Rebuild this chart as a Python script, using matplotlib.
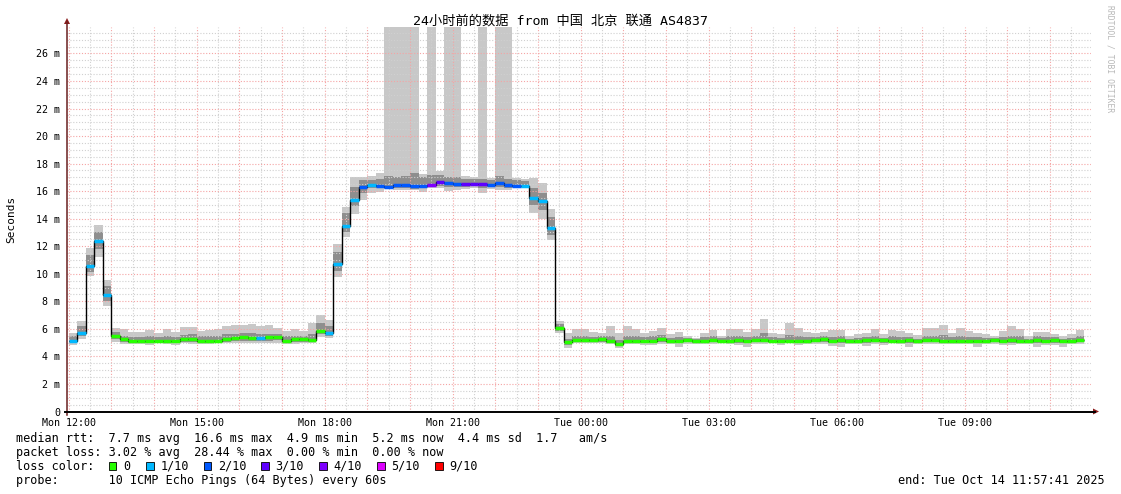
import numpy as np
import matplotlib
matplotlib.use("Agg")
import matplotlib.pyplot as plt
from matplotlib.lines import Line2D
from matplotlib.patches import Rectangle, Polygon

# 12-minute bins starting Mon 12:00 (hours from Mon 12:00)
BIN_HOURS = 0.2

# median rtt per bin, ms
med = [
    5.15, 5.73, 10.57, 12.41, 8.44, 5.50, 5.24, 5.15, 5.15, 5.12,
    5.15, 5.15, 5.12, 5.24, 5.24, 5.15, 5.15, 5.15, 5.29, 5.31,
    5.39, 5.31, 5.31, 5.43, 5.43, 5.15, 5.24, 5.24, 5.19, 5.87,
    5.73, 10.69, 13.45, 15.36, 16.28, 16.43, 16.40, 16.33, 16.48, 16.48,
    16.40, 16.40, 16.45, 16.65, 16.62, 16.53, 16.53, 16.53, 16.53, 16.48,
    16.62, 16.48, 16.40, 16.40, 15.50, 15.29, 13.30, 6.09, 5.02, 5.19,
    5.19, 5.19, 5.24, 5.15, 4.90, 5.15, 5.15, 5.15, 5.15, 5.24,
    5.15, 5.15, 5.19, 5.15, 5.15, 5.19, 5.15, 5.15, 5.19, 5.15,
    5.19, 5.19, 5.15, 5.15, 5.15, 5.15, 5.15, 5.19, 5.24, 5.12,
    5.19, 5.12, 5.12, 5.19, 5.19, 5.19, 5.15, 5.15, 5.19, 5.12,
    5.19, 5.19, 5.15, 5.15, 5.15, 5.15, 5.15, 5.15, 5.19, 5.15,
    5.19, 5.15, 5.15, 5.19, 5.15, 5.19, 5.15, 5.15, 5.19,
]

# slowest ping per bin (30 = off the top of the chart)
hi = [
    5.68, 6.57, 11.90, 13.55, 9.55, 6.09, 5.97, 5.80, 5.80, 5.92,
    5.68, 5.97, 5.80, 6.10, 6.16, 5.85, 5.92, 5.97, 6.21, 6.28,
    6.28, 6.33, 6.21, 6.28, 6.04, 5.85, 5.97, 5.85, 6.45, 7.00,
    6.65, 12.17, 14.88, 17.00, 17.06, 17.10, 17.30, 30.0, 30.0, 30.0,
    30.0, 17.25, 30.0, 17.47, 30.0, 30.0, 17.10, 17.06, 30.0, 16.94,
    30.0, 30.0, 16.94, 16.90, 16.94, 16.57, 14.69, 6.57, 5.73, 5.97,
    5.97, 5.77, 5.68, 6.21, 5.68, 6.21, 5.97, 5.73, 5.85, 6.04,
    5.60, 5.77, 5.49, 5.36, 5.73, 5.92, 5.49, 6.02, 6.02, 5.80,
    6.00, 6.74, 5.68, 5.64, 6.45, 6.09, 5.80, 5.68, 5.75, 5.92,
    5.92, 5.49, 5.64, 5.73, 5.97, 5.64, 5.92, 5.85, 5.73, 5.54,
    6.09, 6.09, 6.31, 5.73, 6.07, 5.87, 5.73, 5.66, 5.49, 5.87,
    6.21, 6.02, 5.49, 5.80, 5.75, 5.64, 5.49, 5.64, 5.92,
]

# fastest ping per bin
lo = [
    4.85, 5.24, 9.85, 11.20, 7.66, 5.07, 4.88, 4.88, 4.88, 4.83,
    4.95, 4.88, 4.83, 4.95, 4.90, 4.88, 4.88, 4.95, 4.95, 5.00,
    5.00, 5.00, 5.00, 4.95, 5.00, 4.88, 4.88, 4.95, 4.95, 5.44,
    5.31, 9.75, 12.65, 14.35, 15.36, 15.90, 15.97, 16.14, 16.10, 16.10,
    16.05, 15.97, 16.20, 16.20, 16.00, 16.05, 16.14, 16.20, 15.90, 16.14,
    16.05, 16.05, 16.20, 16.20, 14.44, 13.97, 12.46, 5.68, 4.59, 4.95,
    4.95, 4.95, 4.95, 4.90, 4.59, 4.90, 4.90, 4.83, 4.83, 4.90,
    4.90, 4.71, 4.90, 4.90, 4.90, 4.88, 4.95, 4.90, 4.83, 4.71,
    4.90, 4.90, 4.95, 4.83, 4.95, 4.83, 4.88, 4.88, 4.90, 4.76,
    4.71, 4.90, 4.90, 4.76, 4.90, 4.81, 4.95, 4.88, 4.71, 4.90,
    4.90, 4.90, 4.90, 4.90, 4.88, 4.90, 4.71, 4.88, 4.90, 4.83,
    4.83, 4.90, 4.90, 4.71, 4.83, 4.83, 4.71, 4.88, 4.90,
]

# inner (darker) smoke band
mhi = [
    5.45, 6.20, 11.40, 13.00, 9.10, 5.80, 5.50, 5.40, 5.40, 5.45,
    5.40, 5.50, 5.40, 5.55, 5.60, 5.45, 5.45, 5.50, 5.60, 5.65,
    5.70, 5.70, 5.60, 5.65, 5.65, 5.45, 5.50, 5.45, 5.60, 6.40,
    6.20, 11.60, 14.40, 16.30, 16.80, 16.80, 16.90, 17.10, 17.00, 17.10,
    17.30, 17.00, 17.20, 17.20, 17.00, 17.00, 16.90, 16.85, 16.90, 16.80,
    17.10, 16.90, 16.80, 16.75, 16.20, 15.90, 14.10, 6.35, 5.30, 5.45,
    5.45, 5.40, 5.45, 5.50, 5.20, 5.50, 5.45, 5.40, 5.45, 5.55,
    5.35, 5.40, 5.35, 5.30, 5.40, 5.45, 5.35, 5.50, 5.50, 5.40,
    5.50, 5.70, 5.40, 5.35, 5.55, 5.45, 5.40, 5.40, 5.45, 5.40,
    5.45, 5.30, 5.35, 5.40, 5.45, 5.35, 5.45, 5.40, 5.40, 5.30,
    5.50, 5.50, 5.55, 5.40, 5.45, 5.40, 5.40, 5.35, 5.35, 5.40,
    5.50, 5.45, 5.30, 5.45, 5.40, 5.40, 5.30, 5.35, 5.45,
]
mlo = [
    5.00, 5.50, 10.10, 11.80, 8.00, 5.30, 5.05, 5.00, 5.00, 4.98,
    5.02, 5.00, 4.98, 5.08, 5.05, 5.00, 5.00, 5.02, 5.08, 5.12,
    5.15, 5.12, 5.10, 5.15, 5.18, 5.00, 5.02, 5.05, 5.02, 5.60,
    5.50, 10.20, 13.00, 14.90, 15.90, 16.20, 16.20, 16.20, 16.25, 16.20,
    16.15, 16.20, 16.30, 16.40, 16.30, 16.30, 16.30, 16.35, 16.25, 16.30,
    16.30, 16.25, 16.30, 16.30, 15.00, 14.60, 12.80, 5.85, 4.80, 5.02,
    5.02, 5.02, 5.05, 5.00, 4.75, 5.00, 5.00, 4.98, 4.98, 5.05,
    5.00, 4.95, 5.02, 5.00, 5.00, 5.02, 5.02, 5.00, 5.00, 4.95,
    5.02, 5.02, 5.02, 4.98, 5.02, 4.98, 5.00, 5.02, 5.05, 4.95,
    4.98, 5.00, 5.00, 4.98, 5.02, 4.98, 5.02, 5.00, 4.95, 5.00,
    5.02, 5.02, 5.00, 5.00, 5.00, 5.00, 4.95, 5.00, 5.02, 4.98,
    5.00, 5.00, 5.00, 4.95, 4.98, 5.00, 4.95, 5.00, 5.02,
]

# lost pings (out of 10) per bin
loss = [
    1, 1, 1, 1, 1, 0, 0, 0, 0, 0,
    0, 0, 0, 0, 0, 0, 0, 0, 0, 0,
    0, 0, 1, 0, 0, 0, 0, 0, 0, 0,
    1, 1, 1, 1, 2, 1, 2, 2, 2, 2,
    2, 2, 4, 3, 2, 2, 3, 3, 3, 2,
    2, 2, 2, 1, 1, 1, 1, 0, 0, 0,
    0, 0, 0, 0, 0, 0, 0, 0, 0, 0,
    0, 0, 0, 0, 0, 0, 0, 0, 0, 0,
    0, 0, 0, 0, 0, 0, 0, 0, 0, 0,
    0, 0, 0, 0, 0, 0, 0, 0, 0, 0,
    0, 0, 0, 0, 0, 0, 0, 0, 0, 0,
    0, 0, 0, 0, 0, 0, 0, 0, 0,
]

loss_colors = {0: "#26ff00", 1: "#00b8ff", 2: "#0059ff", 3: "#5e00ff",
               4: "#7e00ff", 5: "#dd00ff", 9: "#ff0000"}
legend_keys = [0, 1, 2, 3, 4, 5, 9]
legend_names = ["0", "1/10", "2/10", "3/10", "4/10", "5/10", "9/10"]

x_tick_hours = [0, 3, 6, 9, 12, 15, 18, 21]
x_tick_labels = ["Mon 12:00", "Mon 15:00", "Mon 18:00", "Mon 21:00",
                 "Tue 00:00", "Tue 03:00", "Tue 06:00", "Tue 09:00"]
y_ticks = list(range(0, 27, 2))
y_tick_labels = ["0"] + [f"{v} m" for v in y_ticks[1:]]

stats_lines = [
    "median rtt:  7.7 ms avg  16.6 ms max  4.9 ms min  5.2 ms now  4.4 ms sd  1.7   am/s",
    "packet loss: 3.02 % avg  28.44 % max  0.00 % min  0.00 % now",
    "loss color:",
    "probe:       10 ICMP Echo Pings (64 Bytes) every 60s",
]
end_text = "end: Tue Oct 14 11:57:41 2025"
title = "24小时前的数据 from 中国 北京 联通 AS4837"

MONO = ["DejaVu Sans Mono", "Noto Sans CJK SC"]
plt.rcParams["font.family"] = MONO

W, H = 1121, 494
fig = plt.figure(figsize=(W / 100, H / 100), dpi=100)
fig.patch.set_facecolor("white")


def fx(x):
    return x / W


def fy(y):
    return 1 - y / H


X0, X1, Y0, Y1 = 67, 1091, 411.5, 27
ax = fig.add_axes([fx(X0), fy(Y0), (X1 - X0) / W, (Y0 - Y1) / H])
ax.set_xlim(-0.0386, 23.9614)
ax.set_ylim(0, 27.92)
for s in ax.spines.values():
    s.set_visible(False)

edges = np.arange(len(med) + 1) * BIN_HOURS

# smoke
ax.stairs(hi, edges, baseline=lo, fill=True, color="#c8c8c8", lw=0, zorder=1)
ax.stairs(mhi, edges, baseline=mlo, fill=True, color="#8e8e8e", lw=0, zorder=1.5)

# grid on top of smoke
minor_c, major_c = "#d0d0d0", "#f5a4a4"
dots = (0, (1.0, 1.6))
for h in np.arange(0, 24, 0.5):
    ax.axvline(h, color=major_c if h % 1 == 0 else minor_c, lw=0.8, ls=dots, zorder=2)
for v in np.arange(0.5, 28, 0.5):
    ax.axhline(v, color=major_c if v % 2 == 0 else minor_c, lw=0.8, ls=dots, zorder=2)

# median
ax.stairs(med, edges, color="black", lw=1.0, baseline=None, zorder=3)
ax.hlines(med, edges[:-1], edges[1:], colors=[loss_colors[l] for l in loss],
          lw=2.5, zorder=4)

ax.set_xticks(x_tick_hours)
ax.set_xticklabels(x_tick_labels)
ax.set_yticks(y_ticks)
ax.set_yticklabels(y_tick_labels)
ax.tick_params(axis="both", length=0, labelsize=7.2, colors="black")
ax.tick_params(axis="x", pad=4.5)
ax.tick_params(axis="y", pad=5)

# axes with arrows
fig.add_artist(Line2D([fx(X0), fx(X0)], [fy(Y0 + 3), fy(22)], color="#6b1f1f", lw=1.1))
fig.add_artist(Line2D([fx(X0 - 2), fx(1095)], [fy(Y0), fy(Y0)], color="black", lw=1.4))
arr_c = "#8b1c1c"
fig.add_artist(Polygon([[fx(X0 - 3), fy(24)], [fx(X0 + 3), fy(24)], [fx(X0), fy(18)]],
                       closed=True, color=arr_c, lw=0))
fig.add_artist(Polygon([[fx(1093), fy(Y0 - 3)], [fx(1093), fy(Y0 + 3)], [fx(1099), fy(Y0)]],
                       closed=True, color=arr_c, lw=0))

fig.text(fx(560.5), fy(21), title, ha="center", va="center", fontsize=9.5)
fig.text(fx(11), fy(219), "Seconds", rotation=90, ha="center", va="center", fontsize=8)
fig.text(fx(1110), fy(5), "RRDTOOL / TOBI OETIKER", rotation=-90, ha="center", va="top",
         fontsize=5.8, color="#b8b8b8")

row_y = [438, 452, 466, 480]
for y, line in zip(row_y, stats_lines):
    fig.text(fx(16), fy(y), line, ha="left", va="center", fontsize=8.5)
fig.text(fx(1105), fy(480), end_text, ha="right", va="center", fontsize=8.5)

box_x = [108.5, 146, 203.5, 261, 319, 377, 435]
for bx, key, name in zip(box_x, legend_keys, legend_names):
    fig.add_artist(Rectangle((fx(bx), fy(470)), 7.5 / W, 8 / H, facecolor=loss_colors[key],
                             edgecolor="black", lw=0.6))
    fig.text(fx(bx + 14.5), fy(466), name, ha="left", va="center", fontsize=8.5)

fig.savefig("out.png", dpi=100, facecolor="white")
